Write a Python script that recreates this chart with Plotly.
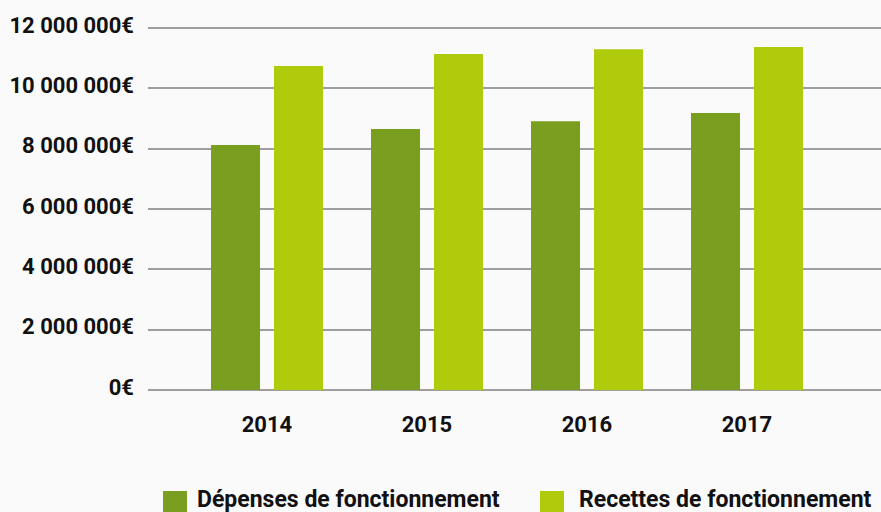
import plotly.graph_objects as go

years = ["2014", "2015", "2016", "2017"]
series_names = ["Dépenses de fonctionnement", "Recettes de fonctionnement"]
depenses = [8120000, 8650000, 8910000, 9180000]
recettes = [10740000, 11140000, 11300000, 11370000]
y_ticks = [0, 2000000, 4000000, 6000000, 8000000, 10000000, 12000000]
y_tick_labels = ["0€", "2 000 000€", "4 000 000€", "6 000 000€", "8 000 000€", "10 000 000€", "12 000 000€"]

colors = ["#7A9E1F", "#B0CA0C"]
W, H = 881, 512
L, R, T, B = 148, 0, 25, 119
FONT = "Roboto"

fig = go.Figure()
for name, vals, c in zip(series_names, [depenses, recettes], colors):
    fig.add_trace(go.Bar(x=list(range(len(years))), y=vals, name=name,
                         marker=dict(color=c, line=dict(width=0)), showlegend=False))

fig.update_layout(
    width=W, height=H,
    margin=dict(l=L, r=R, t=T, b=B, pad=0),
    paper_bgcolor="#FAFAFA", plot_bgcolor="#FAFAFA",
    barmode="group", bargap=0.2125, bargroupgap=0.222,
    font=dict(family=FONT, color="#111111", size=20),
)
fig.update_xaxes(
    tickmode="array", tickvals=list(range(len(years))), ticktext=years,
    range=[-0.74375, 3.8375], showgrid=False, zeroline=False, showline=False,
    tickfont=dict(family=FONT, size=22, color="#111111", weight="bold"),
    ticks="", ticklabelstandoff=16,
)
fig.update_yaxes(
    tickmode="array", tickvals=y_ticks, ticktext=y_tick_labels,
    range=[-100000, 12100000], showgrid=True, gridcolor="#9E9E9E", gridwidth=2,
    zeroline=True, zerolinecolor="#9E9E9E", zerolinewidth=2, showline=False,
    tickfont=dict(family=FONT, size=22, color="#111111", weight="bold"),
    ticks="", ticklabelstandoff=13, ticklabelshift=-3,
)

plot_w = W - L - R
plot_h = H - T - B

def px_x(px):
    return (px - L) / plot_w

def px_y(py):
    return (H - B - py) / plot_h

legend_sq_x = [163, 540]
legend_txt_x = [195, 577]
for i, name in enumerate(series_names):
    fig.add_shape(type="rect", xref="paper", yref="paper",
                  x0=px_x(legend_sq_x[i]), x1=px_x(legend_sq_x[i] + 24),
                  y0=px_y(515), y1=px_y(491),
                  fillcolor=colors[i], line=dict(width=0))
    fig.add_annotation(xref="paper", yref="paper", x=px_x(legend_txt_x[i]), y=px_y(500),
                       text=name, showarrow=False, xanchor="left", yanchor="middle",
                       font=dict(family=FONT, size=23, color="#111111", weight="bold"))

fig.write_html("out.html", config={"displayModeBar": False},
               post_script="document.body.style.margin='0';document.body.style.overflow='hidden';")
